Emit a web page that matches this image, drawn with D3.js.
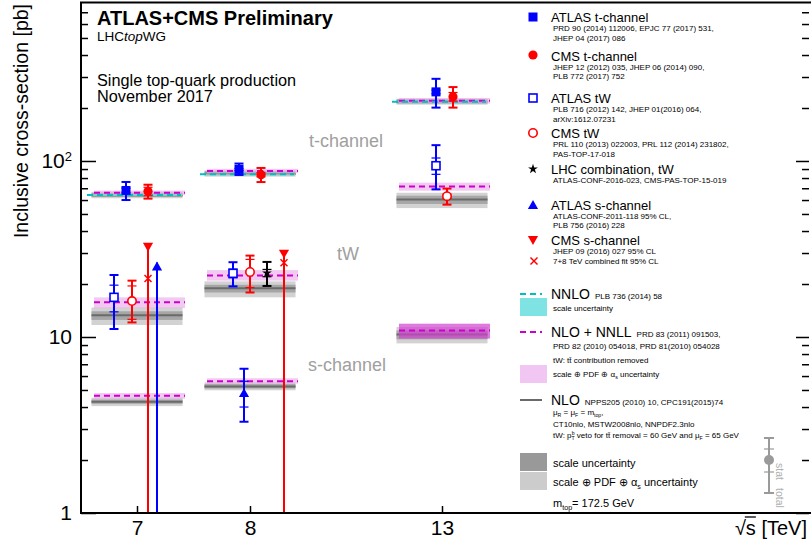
<!DOCTYPE html>
<html><head><meta charset="utf-8">
<script src="https://cdn.jsdelivr.net/npm/d3@7"></script>
<style>
body{margin:0;background:#fff;}
svg{display:block;font-family:"Liberation Sans",Arial,Helvetica,sans-serif;}
</style>
</head><body>
<svg id="c" width="811" height="552"></svg>
<script>
// ---------------- DATA ----------------
const energies = [7, 8, 13];
const xTickLabels = ["7", "8", "13"];
const yMajorTicks = [1, 10, 100];
const yMinorTicks = [2,3,4,5,6,7,8,9,20,30,40,50,60,70,80,90,200,300,400,500,600,700];

// Theory: NNLO t-channel [E, central, scaleLo, scaleHi]
const nnloT = [[7, 64.0, 63.3, 64.7], [8, 84.2, 83.4, 85.0], [13, 217, 215, 219]];
// Theory: NLO+NNLL [E, central, lo, hi]
const nnllT  = [[7, 65.9, 63.9, 67.9], [8, 87.8, 85.3, 90.3], [13, 220, 212, 228]];
const nnllTW = [[7, 15.74, 14.6, 16.8], [8, 22.37, 20.9, 24.0], [13, 71.7, 67.8, 75.3]];
const nnllS  = [[7, 4.63, 4.46, 4.80], [8, 5.61, 5.43, 5.83], [13, 10.9, 9.8, 11.9]];
// Theory: NLO [E, central, scaleLo, scaleHi, totLo, totHi]
const nloT  = [[7, 63.9, 62.6, 65.8, 61.4, 66.8], [8, 84.7, 83.0, 87.3, 81.5, 88.5], [13, 217, 212, 224, 209, 226]];
const nloTW = [[7, 13.3, 12.5, 14.0, 11.7, 14.7], [8, 18.9, 17.9, 19.8, 16.8, 20.7], [13, 60.5, 57.0, 63.5, 54.0, 66.0]];
const nloS  = [[7, 4.29, 4.17, 4.41, 4.05, 4.52], [8, 5.24, 5.10, 5.40, 4.98, 5.52], [13, 10.32, 9.7, 10.9, 9.2, 11.4]];

// Measurements [E, value, statLo, statHi, totLo, totHi]
const atlasT  = [[7, 68.0, 66.0, 70.0, 60.0, 76.0], [8, 89.6, 88.4, 90.8, 83.3, 96.7], [13, 247, 241, 253, 201, 293]];
const cmsT    = [[7, 67.2, 63.5, 70.9, 61.1, 73.3], [8, 83.6, 81.3, 85.9, 75.9, 91.3], [13, 232, 219, 245, 201, 263]];
const atlasTW = [[7, 16.8, 13.9, 19.7, 11.1, 22.5], [8, 23.0, 21.7, 24.3, 19.4, 26.6], [13, 94, 84, 104, 69, 123]];
const cmsTW   = [[7, 16.0, 12.6, 19.5, 12.1, 20.9], [8, 23.4, 19.1, 27.6, 17.9, 29.0], [13, 63.1, 61.3, 64.9, 56.5, 69.7]];
const lhcTW   = [[8, 23.1, 22.0, 24.2, 19.5, 26.7]];
const atlasS  = [[8, 4.8, 4.0, 5.6, 3.3, 6.6]];
// Upper limits 95% CL [E, limit]
const atlasSLimit = [[7, 26.5]];
const cmsSLimit   = [[7, 31.7], [8, 29.0]];
const cmsSComb    = [[7, 21.5], [8, 26.4]];

// ---------------- LAYOUT / STYLE ----------------
const svg = d3.select("#c");
const P = {left: 81, right: 809, top: 3, bottom: 513};
const x = d3.scaleLinear().domain(energies).range([137, 250, 442]);
const y = d3.scaleLog().domain([1, 790]).range([P.bottom, P.top]);

const BLUE = "#0000ff", RED = "#ff0000";
const offs = {
  atlasT: {7: -11, 8: -11, 13: -6}, cmsT: {7: 11, 8: 11, 13: 11},
  atlasTW: {7: -23, 8: -17, 13: -6}, cmsTW: {7: -5, 8: 0, 13: 5},
  lhcTW: {8: 17}, atlasS: {8: -6}, atlasSLimit: {7: 20}, cmsSLimit: {7: 11, 8: 34}
};

const gBand = svg.append("g");
function nloBand(rows) {
  rows.forEach(r => {
    const x0 = x(r[0]) - 45.5, w = 91;
    gBand.append("rect").attr("x", x0).attr("width", w)
      .attr("y", y(r[5])).attr("height", y(r[4]) - y(r[5])).attr("fill", "#d2d2d2");
    gBand.append("rect").attr("x", x0).attr("width", w)
      .attr("y", y(r[3])).attr("height", y(r[2]) - y(r[3])).attr("fill", "#a6a6a6");
  });
}
[nloT, nloTW, nloS].forEach(nloBand);
function nloLine(rows) {
  rows.forEach(r => {
    gBand.append("line").attr("x1", x(r[0]) - 45.5).attr("x2", x(r[0]) + 45.5)
      .attr("y1", y(r[1])).attr("y2", y(r[1])).attr("stroke", "#6a6a6a").attr("stroke-width", 2);
  });
}
[nloT, nloTW, nloS].forEach(nloLine);
function nnllBand(rows, special) {
  rows.forEach(r => {
    const strong = special && r[0] === 13;
    gBand.append("rect").attr("x", x(r[0]) - 43).attr("width", 91)
      .attr("y", y(r[3])).attr("height", y(r[2]) - y(r[3]))
      .attr("fill", strong ? "#d040d0" : "#e8a8e8").attr("opacity", strong ? 0.7 : 0.62);
  });
}
nnllBand(nnllT); nnllBand(nnllTW); nnllBand(nnllS, true);
nnloT.forEach(r => {
  gBand.append("rect").attr("x", x(r[0]) - 45).attr("width", 90)
    .attr("y", y(r[3])).attr("height", y(r[2]) - y(r[3])).attr("fill", "#7fe3e3").attr("opacity", 0.8);
});
function dashLine(rows, color, a, b) {
  rows.forEach(r => {
    gBand.append("line").attr("x1", x(r[0]) + a).attr("x2", x(r[0]) + b)
      .attr("y1", y(r[1])).attr("y2", y(r[1])).attr("stroke", color)
      .attr("stroke-width", 2).attr("stroke-dasharray", "6,4");
  });
}
dashLine(nnllT, "#cc00cc", -43, 48); dashLine(nnllTW, "#cc00cc", -43, 48); dashLine(nnllS, "#cc00cc", -43, 48);
dashLine(nnloT, "#00bfbf", -50, 44);

// ---------------- MEASUREMENTS ----------------
const gM = svg.append("g");
function errBar(g, cx, r, color) {
  g.append("line").attr("x1", cx).attr("x2", cx).attr("y1", y(r[4])).attr("y2", y(r[5]))
    .attr("stroke", color).attr("stroke-width", 2);
  [r[4], r[5]].forEach(v => g.append("line").attr("x1", cx - 4.5).attr("x2", cx + 4.5)
    .attr("y1", y(v)).attr("y2", y(v)).attr("stroke", color).attr("stroke-width", 2));
  [r[2], r[3]].forEach(v => g.append("line").attr("x1", cx - 4.5).attr("x2", cx + 4.5)
    .attr("y1", y(v)).attr("y2", y(v)).attr("stroke", color).attr("stroke-width", 1.2));
}
function marker(g, type, cx, cy, color) {
  if (type === "sqF") g.append("rect").attr("x", cx - 4.5).attr("y", cy - 4.5).attr("width", 9).attr("height", 9).attr("fill", color);
  else if (type === "sqO") g.append("rect").attr("x", cx - 4).attr("y", cy - 4).attr("width", 8).attr("height", 8).attr("fill", "#fff").attr("stroke", color).attr("stroke-width", 1.6);
  else if (type === "ciF") g.append("circle").attr("cx", cx).attr("cy", cy).attr("r", 4.6).attr("fill", color);
  else if (type === "ciO") g.append("circle").attr("cx", cx).attr("cy", cy).attr("r", 4.2).attr("fill", "#fff").attr("stroke", color).attr("stroke-width", 1.6);
  else if (type === "star") g.append("path").attr("d", d3.symbol(d3.symbolStar, 30)()).attr("transform", `translate(${cx},${cy})`).attr("fill", color);
  else if (type === "triU") g.append("path").attr("d", d3.symbol(d3.symbolTriangle, 45)()).attr("transform", `translate(${cx},${cy + 1})`).attr("fill", color);
  else if (type === "triD") g.append("path").attr("d", d3.symbol(d3.symbolTriangle, 45)()).attr("transform", `translate(${cx},${cy - 1}) rotate(180)`).attr("fill", color);
  else if (type === "cross") {
    g.append("line").attr("x1", cx - 3.5).attr("x2", cx + 3.5).attr("y1", cy - 3.5).attr("y2", cy + 3.5).attr("stroke", color).attr("stroke-width", 1.5);
    g.append("line").attr("x1", cx - 3.5).attr("x2", cx + 3.5).attr("y1", cy + 3.5).attr("y2", cy - 3.5).attr("stroke", color).attr("stroke-width", 1.5);
  }
}
function measure(rows, key, type, color) {
  rows.forEach(r => {
    const cx = x(r[0]) + offs[key][r[0]];
    errBar(gM, cx, r, color);
    marker(gM, type, cx, y(r[1]), color);
  });
}
function limit(rows, key, type, color) {
  rows.forEach(r => {
    const cx = x(r[0]) + offs[key][r[0]];
    gM.append("line").attr("x1", cx).attr("x2", cx).attr("y1", y(1)).attr("y2", y(r[1]))
      .attr("stroke", color).attr("stroke-width", 2);
    marker(gM, type, cx, y(r[1]) + (type === "triU" ? 4 : -2), color);
  });
}
limit(cmsSLimit, "cmsSLimit", "triD", RED);
limit(atlasSLimit, "atlasSLimit", "triU", BLUE);
cmsSComb.forEach(r => marker(gM, "cross", x(r[0]) + offs.cmsSLimit[r[0]], y(r[1]), RED));
measure(atlasT, "atlasT", "sqF", BLUE);
measure(cmsT, "cmsT", "ciF", RED);
measure(atlasTW, "atlasTW", "sqO", BLUE);
measure(cmsTW, "cmsTW", "ciO", RED);
measure(lhcTW, "lhcTW", "star", "#000");
measure(atlasS, "atlasS", "triU", BLUE);

// ---------------- AXES ----------------
const gx = svg.append("g").attr("transform", `translate(0,${P.bottom})`)
  .call(d3.axisBottom(x).tickValues(energies).tickSize(-7).tickSizeOuter(0).tickPadding(7)
    .tickFormat((d, i) => xTickLabels[i]));
gx.select(".domain").remove();
gx.selectAll("text").attr("font-size", 21).attr("font-family", "Liberation Sans, Arial, sans-serif").attr("fill", "#000");
gx.selectAll("line").attr("stroke-width", 1.5);

const gyL = svg.append("g").attr("transform", `translate(${P.left},0)`)
  .call(d3.axisLeft(y).tickValues(yMajorTicks).tickSize(-15).tickSizeOuter(0).tickPadding(9).tickFormat(d => d === 100 ? "" : String(d)));
gyL.select(".domain").remove();
gyL.selectAll("line").attr("stroke-width", 1.5);
gyL.selectAll("text").attr("font-size", 21).attr("font-family", "Liberation Sans, Arial, sans-serif").attr("fill", "#000");
gyL.selectAll(".tick").filter(d => d === 100).select("text")
  .call(t => { t.append("tspan").text("10"); t.append("tspan").text("2").attr("font-size", 13).attr("dy", "-0.55em"); });
const gyLm = svg.append("g").attr("transform", `translate(${P.left},0)`)
  .call(d3.axisLeft(y).tickValues(yMinorTicks).tickSize(-7).tickSizeOuter(0).tickFormat(""));
gyLm.select(".domain").remove();
gyLm.selectAll("line").attr("stroke-width", 1.5);
const gyR = svg.append("g").attr("transform", `translate(${P.right},0)`)
  .call(d3.axisRight(y).tickValues(yMajorTicks).tickSize(-13).tickSizeOuter(0).tickFormat(""));
gyR.select(".domain").remove();
gyR.selectAll("line").attr("stroke-width", 1.5);
const gyRm = svg.append("g").attr("transform", `translate(${P.right},0)`)
  .call(d3.axisRight(y).tickValues(yMinorTicks).tickSize(-7).tickSizeOuter(0).tickFormat(""));
gyRm.select(".domain").remove();
gyRm.selectAll("line").attr("stroke-width", 1.5);

// frame
svg.append("line").attr("x1", P.left).attr("x2", P.left).attr("y1", 2).attr("y2", P.bottom + 1).attr("stroke", "#000").attr("stroke-width", 2);
svg.append("line").attr("x1", P.left - 1).attr("x2", 811).attr("y1", P.bottom).attr("y2", P.bottom).attr("stroke", "#000").attr("stroke-width", 2);
svg.append("line").attr("x1", P.left - 1).attr("x2", 811).attr("y1", 2.5).attr("y2", 2.5).attr("stroke", "#000").attr("stroke-width", 2);

// axis titles
svg.append("text").attr("transform", "translate(28,4) rotate(-90)").attr("text-anchor", "end")
  .attr("font-size", 19.5).text("Inclusive cross-section [pb]");
const xt = svg.append("text").attr("x", 807).attr("y", 535).attr("text-anchor", "end").attr("font-size", 20).text("√s [TeV]");
{
  const b = xt.node().getExtentOfChar(1);
  svg.append("line").attr("x1", b.x - 1).attr("x2", b.x + b.width).attr("y1", 517).attr("y2", 517).attr("stroke", "#000").attr("stroke-width", 1.3);
}

// ---------------- TEXT IN PLOT ----------------
svg.append("text").attr("x", 97).attr("y", 25).attr("font-size", 20).attr("font-weight", "bold").text("ATLAS+CMS Preliminary");
svg.append("text").attr("x", 97).attr("y", 41).attr("font-size", 13.5)
  .call(t => { t.append("tspan").text("LHC"); t.append("tspan").attr("font-style", "italic").text("top"); t.append("tspan").text("WG"); });
svg.append("text").attr("x", 97).attr("y", 85.5).attr("font-size", 16.3).text("Single top-quark production");
svg.append("text").attr("x", 97).attr("y", 102).attr("font-size", 16.3).text("November 2017");
svg.append("text").attr("x", 309).attr("y", 147).attr("font-size", 18).attr("fill", "#a0a0a0").text("t-channel");
svg.append("text").attr("x", 337).attr("y", 260).attr("font-size", 18).attr("fill", "#a0a0a0").text("tW");
svg.append("text").attr("x", 308).attr("y", 371).attr("font-size", 18).attr("fill", "#a0a0a0").text("s-channel");

// ---------------- LEGEND ----------------
const gL = svg.append("g");
function rich(g, tx, ty, size, parts, fill) {
  const t = g.append("text").attr("x", tx).attr("y", ty).attr("font-size", size).attr("fill", fill || "#000");
  let cur = 0;
  parts.forEach(p => {
    const p0 = typeof p === "string" ? {t: p} : p;
    const target = p0.sub ? size * 0.3 : p0.sup ? -size * 0.4 : 0;
    const ts = t.append("tspan").text(p0.t).attr("dy", target - cur);
    if (p0.sub || p0.sup) ts.attr("font-size", size * 0.65);
    if (p0.dx) ts.attr("dx", p0.dx);
    cur = target;
  });
  return t;
}
const LX = 551, MX = 533;
function entry(mtype, color, my, title, ty, refs) {
  if (mtype) marker(gL, mtype, MX, my, color);
  gL.append("text").attr("x", LX).attr("y", ty).attr("font-size", 13).text(title);
  refs.forEach(r => gL.append("text").attr("x", LX + 2).attr("y", r[1]).attr("font-size", 8).text(r[0]));
}
entry("sqF", BLUE, 17, "ATLAS t-channel", 21.5, [["PRD 90 (2014) 112006, EPJC 77 (2017) 531,", 31], ["JHEP 04 (2017) 086", 40.5]]);
entry("ciF", RED, 55, "CMS t-channel", 60.5, [["JHEP 12 (2012) 035, JHEP 06 (2014) 090,", 69.5], ["PLB 772 (2017) 752", 79]]);
entry("sqO", BLUE, 98, "ATLAS tW", 102.5, [["PLB 716 (2012) 142, JHEP 01(2016) 064,", 112], ["arXiv:1612.07231", 122]]);
entry("ciO", RED, 133, "CMS tW", 137.5, [["PRL 110 (2013) 022003, PRL 112 (2014) 231802,", 147], ["PAS-TOP-17-018", 157]]);
entry("star", "#000", 169, "LHC combination, tW", 174, [["ATLAS-CONF-2016-023, CMS-PAS-TOP-15-019", 183]]);
entry("triU", BLUE, 205, "ATLAS s-channel", 209.5, [["ATLAS-CONF-2011-118 95% CL,", 218.5], ["PLB 756 (2016) 228", 227.5]]);
entry("triD", RED, 240, "CMS s-channel", 245, [["JHEP 09 (2016) 027 95% CL", 254]]);
marker(gL, "cross", 534, 261, RED);
gL.append("text").attr("x", LX + 2).attr("y", 264).attr("font-size", 8).text("7+8 TeV combined fit 95% CL");

function titleWithRef(title, ty, ref) {
  const t = gL.append("text").attr("x", LX).attr("y", ty).attr("font-size", 14).text(title);
  const w = t.node().getComputedTextLength();
  gL.append("text").attr("x", LX + w + 5).attr("y", ty).attr("font-size", 8).text(ref);
}
gL.append("line").attr("x1", 520).attr("x2", 542).attr("y1", 294).attr("y2", 294).attr("stroke", "#00bfbf").attr("stroke-width", 2).attr("stroke-dasharray", "6,4");
titleWithRef("NNLO", 299, "PLB 736 (2014) 58");
gL.append("rect").attr("x", 520).attr("y", 298).attr("width", 27).attr("height", 18).attr("fill", "#7fe3e3");
gL.append("text").attr("x", LX + 2).attr("y", 311).attr("font-size", 8).text("scale uncertainty");
gL.append("line").attr("x1", 520).attr("x2", 542).attr("y1", 332).attr("y2", 332).attr("stroke", "#cc00cc").attr("stroke-width", 2).attr("stroke-dasharray", "6,4");
titleWithRef("NLO + NNLL", 337, "PRD 83 (2011) 091503,");
gL.append("text").attr("x", LX + 2).attr("y", 349).attr("font-size", 8).text("PRD 82 (2010) 054018, PRD 81(2010) 054028");
gL.append("text").attr("x", LX + 2).attr("y", 363).attr("font-size", 8).text("tW: tt\u0304 contribution removed");
gL.append("rect").attr("x", 520).attr("y", 365).attr("width", 27).attr("height", 18).attr("fill", "#f2c6f2");
rich(gL, LX + 2, 377, 8, ["scale ⊕ PDF ⊕ α", {t: "s", sub: true}, " uncertainty"]);
gL.append("line").attr("x1", 520).attr("x2", 542).attr("y1", 400).attr("y2", 400).attr("stroke", "#6a6a6a").attr("stroke-width", 2);
titleWithRef("NLO", 405, "NPPS205 (2010) 10, CPC191(2015)74");
rich(gL, LX + 2, 414.5, 8, ["μ", {t: "R", sub: true}, " = μ", {t: "F", sub: true}, " = m", {t: "top", sub: true}, ","]);
gL.append("text").attr("x", LX + 2).attr("y", 427).attr("font-size", 8).text("CT10nlo, MSTW2008nlo, NNPDF2.3nlo");
rich(gL, LX + 2, 438, 8, ["tW: p", {t: "T", sub: true}, {t: "b", sup: true, dx: -3}, " veto for tt\u0304 removal = 60 GeV and μ", {t: "F", sub: true}, " = 65 GeV"]);
gL.append("rect").attr("x", 520).attr("y", 453).attr("width", 27).attr("height", 18).attr("fill", "#999999");
gL.append("text").attr("x", LX + 2).attr("y", 467).attr("font-size", 11).text("scale uncertainty");
gL.append("rect").attr("x", 520).attr("y", 472).attr("width", 27).attr("height", 18).attr("fill", "#cccccc");
rich(gL, LX + 2, 486, 11, ["scale ⊕ PDF ⊕ α", {t: "s", sub: true}, " uncertainty"]);
rich(gL, 553, 507, 11, ["m", {t: "top", sub: true}, "= 172.5 GeV"]);

const KX = 769, KG = "#9a9a9a";
gL.append("line").attr("x1", KX).attr("x2", KX).attr("y1", 438).attr("y2", 493).attr("stroke", KG).attr("stroke-width", 2);
[438, 493].forEach(v => gL.append("line").attr("x1", KX - 5).attr("x2", KX + 5).attr("y1", v).attr("y2", v).attr("stroke", KG).attr("stroke-width", 2));
[449, 472].forEach(v => gL.append("line").attr("x1", KX - 5).attr("x2", KX + 5).attr("y1", v).attr("y2", v).attr("stroke", KG).attr("stroke-width", 1.2));
gL.append("circle").attr("cx", KX).attr("cy", 460).attr("r", 5).attr("fill", KG);
gL.append("text").attr("transform", "translate(776,463) rotate(90)").attr("font-size", 10.5).attr("fill", "#b0b0b0").text("stat");
gL.append("text").attr("transform", "translate(776,488) rotate(90)").attr("font-size", 10.5).attr("fill", "#b0b0b0").text("total");
</script>
</body></html>
